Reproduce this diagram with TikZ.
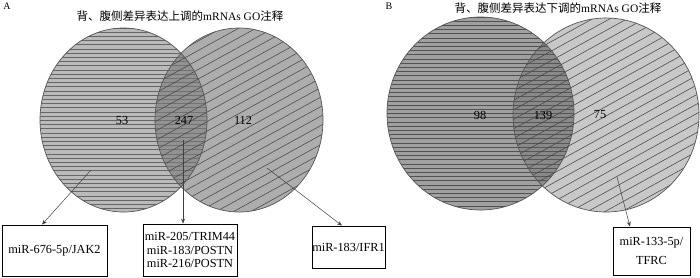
\documentclass[tikz,border=0pt]{standalone}
\usepackage{fontspec}
\setmainfont{Liberation Serif}
\newfontfamily\cjk{Noto Sans CJK SC}
\usetikzlibrary{arrows.meta}
\definecolor{hatchc}{HTML}{666666}
\definecolor{rimc}{HTML}{555555}
\definecolor{fillAL}{HTML}{BABABA}
\definecolor{fillAR}{HTML}{7A7A7A}
\definecolor{fillBL}{HTML}{A0A0A0}
\definecolor{fillBR}{HTML}{606060}
\begin{document}
\begin{tikzpicture}[x=1pt,y=-1pt,
  hline/.style={draw=hatchc,line width=0.8pt},
  dline/.style={draw=hatchc!70!black,line width=0.55pt},
  rimline/.style={draw=rimc,line width=0.7pt},
  box/.style={draw=black,line width=0.8pt,fill=white,align=center,
    font=\fontsize{12.3}{13.6}\selectfont,inner sep=0pt},
  arr/.style={draw=black!75,line width=0.5pt,-{Stealth[length=5pt,width=4pt]}},
  num/.style={font=\fontsize{12.3}{14}\selectfont},
  ttl/.style={font=\fontsize{11.5}{13}\selectfont},
  lbl/.style={font=\fontsize{10}{11}\selectfont},
]
\useasboundingbox (0,0) rectangle (700,277);

% ---------- Panel A ----------
\node[lbl] (lA) at (7,6) {A};
\node[ttl] (tA) at (180,16) {{\cjk 背、腹侧差异表达上调的}mRNAs GO{\cjk 注释}};

\fill[fillAL] (123.5,120) ellipse [x radius=83.5, y radius=92];
\begin{scope}
  \clip (123.5,120) ellipse [x radius=83.5, y radius=92];
  \foreach \y in {28,32.2,...,214} \draw[hline] (30,\y) -- (220,\y);
\end{scope}
\fill[fillAR,opacity=0.62] (239,120) ellipse [x radius=84, y radius=92];
\begin{scope}
  \clip (239,120) ellipse [x radius=84, y radius=92];
  \foreach \k in {20,29.5,...,330} \draw[dline] (150,\k) -- (330,\k-99);
\end{scope}
\draw[rimline] (123.5,120) ellipse [x radius=83.5, y radius=92];
\draw[rimline] (239,120) ellipse [x radius=84, y radius=92];

\node[num] (n53) at (122,120) {53};
\node[num] (n247) at (184,120) {247};
\node[num] (n112) at (243,120) {112};

\node[box,minimum width=105pt,minimum height=51pt] (b1) at (54.5,250.5) {miR-676-5p/JAK2};
\node[box,minimum width=94pt,minimum height=52pt] (b2) at (190,250) {miR-205/TRIM44\\miR-183/POSTN\\miR-216/POSTN};
\node[box,minimum width=73pt,minimum height=42pt] (b3) at (348.5,247) {miR-183/IFR1};

\coordinate (s1) at (91,170);
\coordinate (s2) at (183,140);
\coordinate (s3) at (267,168);
\draw[arr] (s1) -- (b1.north -| 42,0);
\draw[arr] (s2) -- (b2.north -| 183,0);
\draw[arr] (s3) -- (b3.north -| 342,0);

% ---------- Panel B ----------
\node[lbl] (lB) at (389,6) {B};
\node[ttl] (tB) at (558,8) {{\cjk 背、腹侧差异表达下调的}mRNAs GO{\cjk 注释}};

\fill[fillBL] (480.5,113.5) ellipse [x radius=93.5, y radius=96.5];
\begin{scope}
  \clip (480.5,113.5) ellipse [x radius=93.5, y radius=96.5];
  \foreach \y in {17,21.2,...,212} \draw[hline,draw=hatchc!80!black] (380,\y) -- (580,\y);
\end{scope}
\fill[fillBR,opacity=0.35] (606,115) ellipse [x radius=93, y radius=97];
\begin{scope}
  \clip (606,115) ellipse [x radius=93, y radius=97];
  \foreach \k in {10,19.5,...,340} \draw[dline] (505,\k) -- (705,\k-110);
\end{scope}
\draw[rimline] (480.5,113.5) ellipse [x radius=93.5, y radius=96.5];
\draw[rimline] (606,115) ellipse [x radius=93, y radius=97];

\node[num] (n98) at (480,115) {98};
\node[num] (n139) at (543,115) {139};
\node[num] (n75) at (600,115) {75};

\node[box,minimum width=77pt,minimum height=48pt] (b4) at (651.5,251) {miR-133-5p/\\[4.5pt]TFRC};
\coordinate (s4) at (617,177);
\draw[arr] (s4) -- (b4.north -| 630,0);
\end{tikzpicture}
\end{document}
